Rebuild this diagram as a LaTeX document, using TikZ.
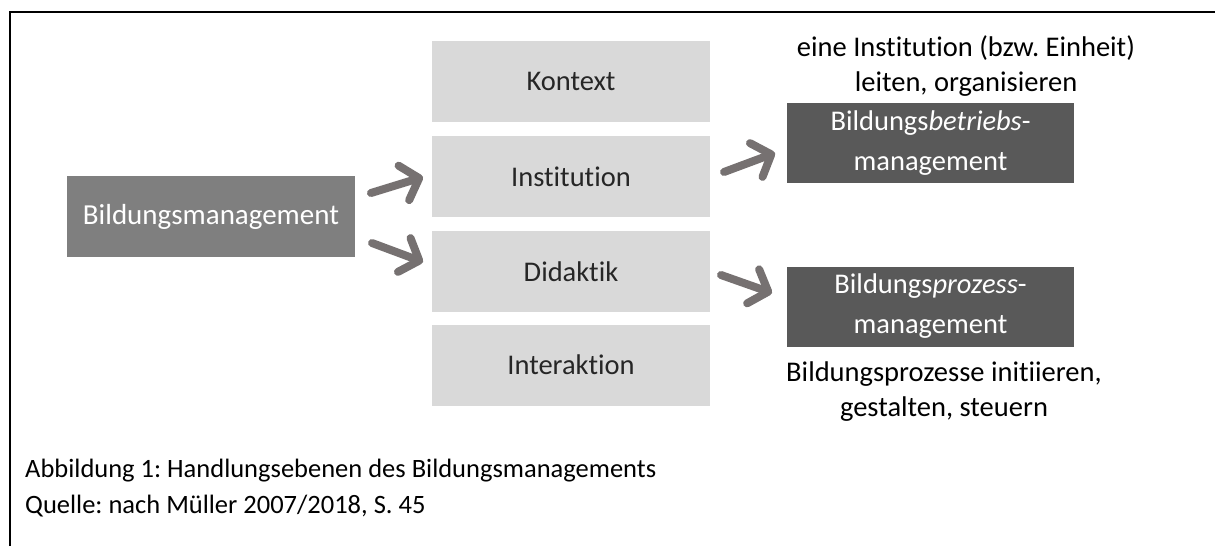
\documentclass[tikz,border=0pt]{standalone}
\usepackage{fontspec}
\setmainfont{Carlito}[Ligatures={NoCommon,NoContextual}]
\usetikzlibrary{arrows.meta}
\frenchspacing
\definecolor{midgray}{HTML}{7F7F7F}
\definecolor{lightgray}{HTML}{D9D9D9}
\definecolor{darkgray}{HTML}{595959}
\definecolor{arrowgray}{HTML}{767171}
\definecolor{textdark}{HTML}{262626}
\tikzset{
  lightbox/.style={fill=lightgray, draw=none, minimum width=278pt, minimum height=81pt, inner sep=0pt, text=textdark, font=\fontsize{28.5}{40}\selectfont},
  darkbox/.style={fill=darkgray, draw=none, minimum width=287pt, minimum height=80pt, inner sep=0pt, text=white, align=center, font=\fontsize{28.5}{40}\selectfont},
  midbox/.style={fill=midgray, draw=none, minimum width=288pt, minimum height=81pt, inner sep=0pt, text=white, font=\fontsize{29}{40}\selectfont},
  note/.style={align=center, text=black, inner sep=0pt, font=\fontsize{28.5}{35}\selectfont},
  caption/.style={anchor=base west, inner sep=0pt, text=black, font=\fontsize{26.5}{30}\selectfont},
  bigarrow/.style={draw=arrowgray, line width=8pt, line cap=round, -{Straight Barb[round,length=16pt,width=36pt]}},
  frameline/.style={line width=2.5pt, black}
}
\begin{document}
\begin{tikzpicture}[x=1pt,y=-1pt]
\useasboundingbox (0,0) rectangle (1215,546);
\coordinate (fbl) at (10,546);
\coordinate (ftl) at (10,12);
\coordinate (ftr) at (1215,12);
\draw[frameline] (fbl) -- (ftl) -- (ftr);

\node[midbox] (bm) at (211,216.5) {Bildungsmanagement};

\node[lightbox] (kon) at (571,81.5) {Kontext};
\node[lightbox] (ins) at (571,176.5) {Institution};
\node[lightbox] (did) at (571,271.5) {Didaktik};
\node[lightbox] (int) at (571,365) {Interaktion};

\node[darkbox] (bbm) at (930.5,143) {Bildungs\textit{betriebs}-\\management};
\node[darkbox] (bpm) at (930.5,306.5) {Bildungs\textit{prozess}-\\management};

\node[note, anchor=south] (n1) at (966,97) {eine Institution (bzw. Einheit)\\leiten, organisieren};
\node[note, anchor=north] (n2) at (944,362) {Bildungsprozesse initiieren,\\gestalten, steuern};

\coordinate (a1s) at (371,193);
\coordinate (a1e) at (423,177);
\coordinate (a2s) at (372,243);
\coordinate (a2e) at (423,262);
\coordinate (a3s) at (724,172);
\coordinate (a3e) at (775,153);
\coordinate (a4s) at (721,275);
\coordinate (a4e) at (772,293);
\draw[bigarrow] (a1s) -- (a1e);
\draw[bigarrow] (a2s) -- (a2e);
\draw[bigarrow] (a3s) -- (a3e);
\draw[bigarrow] (a4s) -- (a4e);

\node[caption] (c1) at (25,477) {Abbildung 1: Handlungsebenen des Bildungsmanagements};
\node[caption] (c2) at (25,513) {Quelle: nach Müller 2007/2018, S. 45};
\end{tikzpicture}
\end{document}
